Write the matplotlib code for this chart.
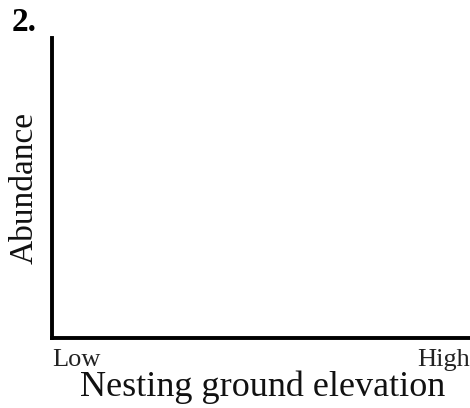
import matplotlib
matplotlib.use("Agg")
import matplotlib.pyplot as plt

x_ticks = [0, 1]
x_tick_labels = ["Low", "High"]
x_label = "Nesting ground elevation"
y_label = "Abundance"
panel_label = "2."

plt.rcParams["font.family"] = ["Liberation Serif", "DejaVu Serif"]

fig = plt.figure(figsize=(4.7, 4.08), dpi=100)
ax = fig.add_axes([52 / 470, 1 - 338 / 408, 418 / 470, 300 / 408])
ax.set_xlim(0, 1)
ax.set_ylim(0, 1)
for side in ("top", "right"):
    ax.spines[side].set_visible(False)
for side in ("left", "bottom"):
    ax.spines[side].set_linewidth(2.8)
    ax.spines[side].set_color("black")
ax.set_yticks([])
ax.set_xticks(x_ticks)
ax.set_xticklabels(x_tick_labels, fontsize=19, color="#222222")
ax.tick_params(axis="x", length=0, pad=8)
labels = ax.get_xticklabels()
labels[0].set_horizontalalignment("left")
labels[1].set_horizontalalignment("right")
ax.set_xlabel(x_label, fontsize=26, labelpad=0, color="#111111")
ax.set_ylabel(y_label, fontsize=24, color="#111111")
ax.xaxis.set_label_coords(0.505, -0.11, transform=ax.transAxes)
ax.xaxis.label.set_verticalalignment("top")
ax.yaxis.set_label_coords(-0.03, 0.5, transform=ax.transAxes)

fig.text(12 / 470, 1 - 31 / 408, panel_label, fontsize=24, fontweight="bold")

fig.savefig("out.png", dpi=100)
